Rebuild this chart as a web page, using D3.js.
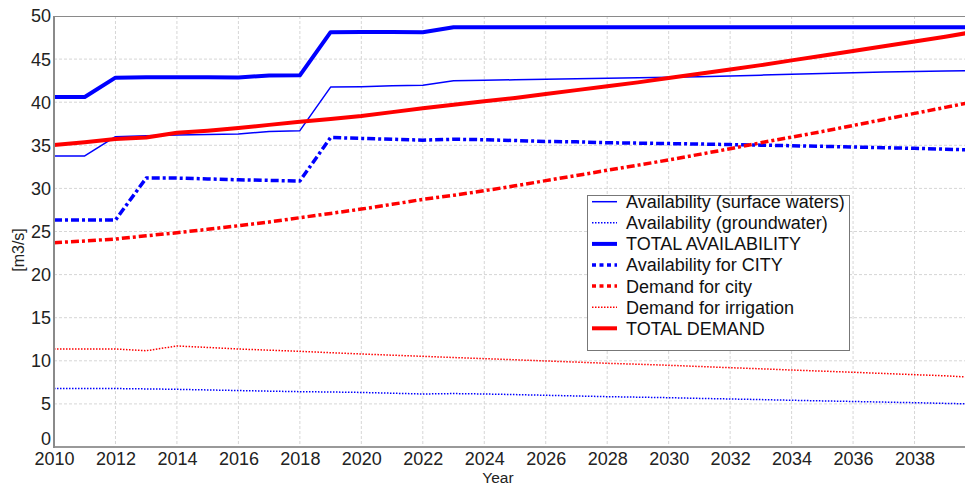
<!DOCTYPE html>
<html>
<head>
<meta charset="utf-8">
<script src="https://cdn.jsdelivr.net/npm/d3@7"></script>
<style>
  html, body { margin: 0; padding: 0; background: #fff; }
  svg { display: block; font-family: "Liberation Sans", Arial, Helvetica, sans-serif; }
</style>
</head>
<body>
<svg id="chart" width="965" height="486"></svg>
<script>
// Yearly water balance, 2010-2040, in m3/s
const years = d3.range(2010, 2041);

const surfaceWaters = [33.76, 33.76, 36.0, 36.1, 36.2, 36.25, 36.3, 36.6, 36.7, 41.75,
  41.8, 41.9, 41.96, 42.5, 42.55, 42.6, 42.66, 42.72, 42.78, 42.84,
  42.9, 42.96, 43.04, 43.14, 43.24, 43.34, 43.43, 43.5, 43.56, 43.62, 43.68];

const groundwater = [6.8, 6.8, 6.78, 6.74, 6.69, 6.62, 6.55, 6.48, 6.42, 6.38,
  6.33, 6.24, 6.15, 6.2, 6.15, 6.08, 6.0, 5.92, 5.84, 5.78,
  5.72, 5.64, 5.57, 5.5, 5.42, 5.35, 5.28, 5.21, 5.14, 5.06, 4.98];

const totalAvailability = [40.6, 40.6, 42.85, 42.88, 42.9, 42.88, 42.87, 43.1, 43.12, 48.12,
  48.13, 48.14, 48.12, 48.7, 48.7, 48.7, 48.7, 48.7, 48.7, 48.7,
  48.7, 48.7, 48.7, 48.7, 48.7, 48.7, 48.7, 48.7, 48.7, 48.7, 48.7];

const availabilityCity = [26.33, 26.33, 26.33, 31.2, 31.2, 31.1, 31.0, 30.93, 30.86, 35.9,
  35.8, 35.7, 35.6, 35.7, 35.65, 35.55, 35.45, 35.4, 35.3, 35.25,
  35.2, 35.15, 35.08, 35.02, 34.95, 34.88, 34.8, 34.72, 34.65, 34.55, 34.45];

const demandCity = [23.7, 23.9, 24.13, 24.5, 24.86, 25.25, 25.67, 26.1, 26.6, 27.1,
  27.6, 28.15, 28.73, 29.2, 29.73, 30.3, 30.9, 31.5, 32.1, 32.7,
  33.3, 33.95, 34.6, 35.3, 35.95, 36.6, 37.3, 38.0, 38.7, 39.4, 40.1];

const demandIrrigation = [11.37, 11.37, 11.37, 11.17, 11.72, 11.55, 11.37, 11.23, 11.1, 10.94,
  10.79, 10.65, 10.52, 10.38, 10.25, 10.12, 9.98, 9.85, 9.71, 9.6,
  9.48, 9.34, 9.2, 9.07, 8.93, 8.8, 8.67, 8.53, 8.39, 8.26, 8.05];

const totalDemand = [35.03, 35.35, 35.73, 35.9, 36.46, 36.7, 37.0, 37.37, 37.74, 38.05,
  38.4, 38.85, 39.3, 39.7, 40.1, 40.5, 40.95, 41.4, 41.85, 42.3,
  42.8, 43.3, 43.8, 44.3, 44.85, 45.4, 45.95, 46.5, 47.05, 47.6, 48.2];

const xTicks = d3.range(2010, 2039, 2);
const yTicks = d3.range(0, 51, 5);

const seriesNames = [
  "Availability (surface waters)",
  "Availability (groundwater)",
  "TOTAL AVAILABILITY",
  "Availability for CITY",
  "Demand for city",
  "Demand for irrigation",
  "TOTAL DEMAND"
];

const BLUE = "#0000ff", RED = "#ff0000";
const series = [
  { name: seriesNames[0], values: surfaceWaters,     color: BLUE, width: 1.5, dash: null,        key: null },
  { name: seriesNames[1], values: groundwater,       color: BLUE, width: 1.5, dash: "1.5,1.5",   key: "1.5,1.5" },
  { name: seriesNames[2], values: totalAvailability, color: BLUE, width: 4,   dash: null,        key: null },
  { name: seriesNames[3], values: availabilityCity,  color: BLUE, width: 3.5, dash: "8,3,3,3",   key: "4,3.5" },
  { name: seriesNames[4], values: demandCity,        color: RED,  width: 3.5, dash: "8,3,3,3",   key: "4,3.5" },
  { name: seriesNames[5], values: demandIrrigation,  color: RED,  width: 1.5, dash: "1.5,1.5",   key: "1.5,1.5" },
  { name: seriesNames[6], values: totalDemand,       color: RED,  width: 4,   dash: null,        key: null }
];

const svg = d3.select("#chart");
const plotLeft = 54, plotTop = 16, plotBottom = 447, plotRight = 965;

const x = d3.scaleLinear().domain([2010, 2040]).range([plotLeft, 976]);
const y = d3.scaleLinear().domain([0, 50]).range([plotBottom, plotTop]);

// grid
const grid = svg.append("g").attr("stroke", "#d6d6d6").attr("stroke-width", 1)
  .attr("stroke-dasharray", "3,2");
grid.selectAll("line.v").data(xTicks.slice(1)).join("line").attr("class", "v")
  .attr("x1", d => x(d)).attr("x2", d => x(d))
  .attr("y1", plotTop).attr("y2", plotBottom);
grid.selectAll("line.h").data(yTicks.slice(1, -1)).join("line").attr("class", "h")
  .attr("x1", plotLeft).attr("x2", plotRight)
  .attr("y1", d => y(d)).attr("y2", d => y(d));

// top frame edge
svg.append("line").attr("x1", plotLeft).attr("x2", plotRight)
  .attr("y1", plotTop + 0.5).attr("y2", plotTop + 0.5)
  .attr("stroke", "#8a8a8a").attr("stroke-width", 1);

// series lines
const line = d3.line().x((d, i) => x(years[i])).y(d => y(d));
const lines = svg.append("g").attr("fill", "none")
  .attr("stroke-linejoin", "round");
lines.selectAll("path").data(series).join("path")
  .attr("d", d => line(d.values))
  .attr("stroke", d => d.color)
  .attr("stroke-width", d => d.width)
  .attr("stroke-dasharray", d => d.dash);

// axes
const xAxis = d3.axisBottom(x).tickValues(xTicks).tickSize(0).tickPadding(5).tickFormat(d3.format("d"));
const gx = svg.append("g").attr("transform", `translate(0,${plotBottom})`).call(xAxis);
gx.select(".domain").attr("d", `M${plotLeft},0H${plotRight}`).attr("stroke", "#999").attr("stroke-width", 2);
gx.selectAll("text").attr("font-size", 18).attr("fill", "#222").attr("font-family", null);

const yAxis = d3.axisLeft(y).tickValues(yTicks).tickSize(0).tickPadding(3);
const gy = svg.append("g").attr("transform", `translate(${plotLeft},0)`).call(yAxis);
gy.select(".domain").attr("d", `M0,${plotTop}V${plotBottom + 1}`).attr("stroke", "#8a8a8a").attr("stroke-width", 2);
gy.selectAll("text").attr("font-size", 18).attr("fill", "#222").attr("font-family", null)
  .attr("dy", d => d === 0 ? "-0.15em" : "0.33em");

// axis titles
svg.append("text").attr("x", 498).attr("y", 482.8).attr("text-anchor", "middle")
  .attr("font-size", 15.5).attr("fill", "#222").text("Year");
svg.append("text").attr("transform", "translate(24,250) rotate(-90)").attr("text-anchor", "middle")
  .attr("font-size", 16).attr("fill", "#222").text("[m3/s]");

// legend
const lg = svg.append("g").attr("transform", "translate(587,195)");
lg.append("rect").attr("x", 0.5).attr("y", 0.5).attr("width", 262).attr("height", 155)
  .attr("fill", "#fff").attr("stroke", "#777").attr("stroke-width", 1);
const rows = lg.selectAll("g.row").data(series).join("g").attr("class", "row")
  .attr("transform", (d, i) => `translate(0,${6.7 + i * 21.1})`);
rows.append("line").attr("x1", 5).attr("x2", 30).attr("y1", 0).attr("y2", 0)
  .attr("stroke", d => d.color)
  .attr("stroke-width", d => d.width)
  .attr("stroke-dasharray", d => d.key);
rows.append("text").attr("x", 39).attr("y", 6.4)
  .attr("font-size", 18).attr("fill", "#111").text(d => d.name);
</script>
</body>
</html>
